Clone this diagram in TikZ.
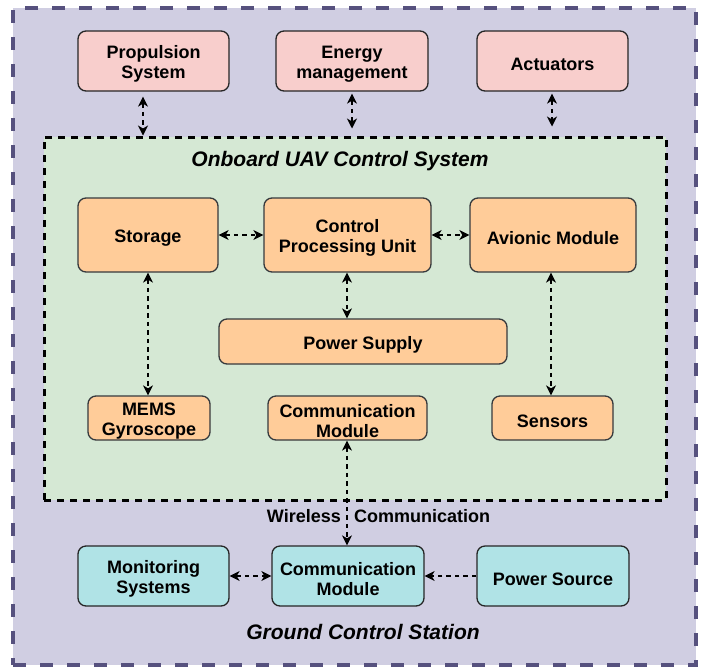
\documentclass[tikz,border=0pt]{standalone}
\usepackage{fontspec}
\setmainfont{Liberation Sans}
\usetikzlibrary{arrows.meta}
\definecolor{lav}{HTML}{D0CEE2}
\definecolor{lavline}{HTML}{56517E}
\definecolor{grn}{HTML}{D5E8D4}
\definecolor{pnk}{HTML}{F8CECC}
\definecolor{org}{HTML}{FFCC99}
\definecolor{cyn}{HTML}{B0E3E6}
\definecolor{orgline}{HTML}{36393D}
\tikzset{
  boxtext/.style={align=center, inner sep=0pt, yshift=-3pt,
     font=\fontsize{18}{20.5}\selectfont\bfseries},
  box/.style={rounded corners=8pt, line width=1.3pt, inner sep=0pt,
     label={[boxtext]center:{#1}}},
  pbox/.style={box={#1}, draw=black!85, fill=pnk, minimum width=151pt, minimum height=60pt},
  obox/.style={box={#1}, draw=orgline, fill=org},
  cbox/.style={box={#1}, draw=black!85, fill=cyn, minimum width=152pt, minimum height=60pt},
  arr/.style={line width=1.1pt, dash pattern=on 4.5pt off 4pt,
     {Stealth[length=10pt,width=10pt,inset=3pt]}-{Stealth[length=10pt,width=10pt,inset=3pt]}},
  arrone/.style={line width=1.1pt, dash pattern=on 4.5pt off 4pt,
     -{Stealth[length=10pt,width=10pt,inset=3pt]}},
  ttl/.style={font=\fontsize{21}{24}\selectfont\bfseries\itshape, inner sep=0pt},
  lbl/.style={font=\fontsize{18}{20}\selectfont\bfseries, inner sep=0pt},
}
\begin{document}
\begin{tikzpicture}[x=1pt,y=-1pt]
\useasboundingbox (0,0) rectangle (709,670);
% outer container
\node[draw=lavline, fill=lav, line width=4.5pt, dash pattern=on 13pt off 14pt,
  minimum width=683pt, minimum height=657pt, inner sep=0pt] (outer) at (354.5,336.5) {};
% onboard container
\node[draw=black, fill=grn, line width=3pt, dash pattern=on 7pt off 6pt,
  minimum width=622pt, minimum height=363pt, inner sep=0pt] (onboard) at (355,318.5) {};
\node[ttl] (ttl1) at (340,161) {Onboard UAV Control System};
\node[ttl] (ttl2) at (363,632) {Ground Control Station};

% top boxes
\node[pbox={Propulsion\\System}] (prop) at (153.5,61) {};
\node[pbox={Energy\\management}, minimum width=152pt] (energy) at (352,61) {};
\node[pbox={Actuators}] (act) at (552.5,61) {};

% onboard boxes
\node[obox={Storage}, minimum width=140pt, minimum height=74pt] (stor) at (148,235) {};
\node[obox={Control\\Processing Unit}, minimum width=167pt, minimum height=74pt] (cpu) at (347.5,235) {};
\node[obox={Avionic Module}, minimum width=166pt, minimum height=74pt] (avi) at (553,235) {};
\node[obox={Power Supply}, minimum width=288pt, minimum height=45pt] (ps) at (363,341.5) {};
\node[obox={MEMS\\Gyroscope}, minimum width=122pt, minimum height=44pt] (mems) at (149,418) {};
\node[obox={Communication\\Module}, minimum width=159pt, minimum height=44pt] (comm1) at (347.5,418) {};
\node[obox={Sensors}, minimum width=121pt, minimum height=44pt] (sens) at (552.5,418) {};

% ground boxes
\node[cbox={Monitoring\\Systems}, minimum width=151pt] (mon) at (153.5,576) {};
\node[cbox={Communication\\Module}] (comm2) at (348,576) {};
\node[cbox={Power Source}] (psrc) at (553,576) {};

% helper coordinates
\coordinate (xa) at (143,0);
\coordinate (xb) at (352,0);
\coordinate (xc) at (552,0);
\coordinate (xd) at (347,0);
\coordinate (xe) at (148,0);
\coordinate (xf) at (551,0);

% connectors
\draw[arr, shorten <=5pt] (prop.south -| xa) -- (onboard.north -| xa);
\draw[arr, shorten <=2pt, shorten >=7pt] (energy.south -| xb) -- (onboard.north -| xb);
\draw[arr, shorten <=2pt, shorten >=9pt] (act.south -| xc) -- (onboard.north -| xc);
\draw[arr] (stor.east) -- (cpu.west);
\draw[arr] (cpu.east) -- (avi.west);
\draw[arr] (cpu.south -| xd) -- (ps.north -| xd);
\draw[arr] (stor.south -| xe) -- (mems.north -| xe);
\draw[arr] (avi.south -| xf) -- (sens.north -| xf);
\draw[arr] (comm1.south -| xd) -- (comm2.north -| xd);
\draw[arr] (mon.east) -- (comm2.west);
\draw[arrone] (psrc.west) -- (comm2.east);

% wireless labels
\node[lbl, anchor=east] (wl) at (341,516) {Wireless};
\node[lbl, anchor=west] (wc) at (354,516) {Communication};
\end{tikzpicture}
\end{document}
